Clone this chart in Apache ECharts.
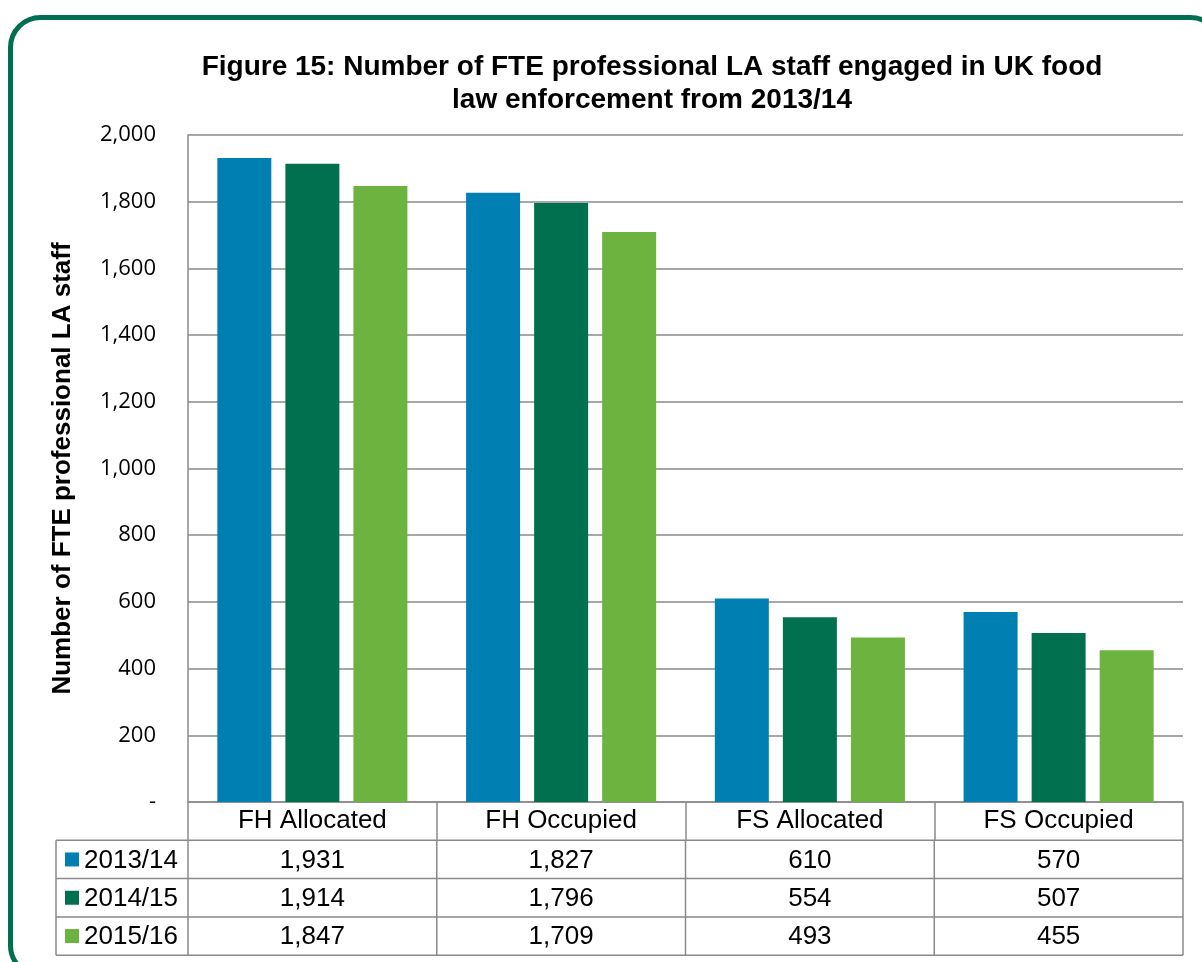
<!DOCTYPE html>
<html>
<head>
<meta charset="utf-8">
<script src="https://cdn.jsdelivr.net/npm/echarts@6/dist/echarts.min.js"></script>
<style>
  html, body { margin: 0; padding: 0; background: #fff; }
  #chart { width: 1202px; height: 962px; }
</style>
</head>
<body>
<div id="chart"></div>
<script>
// categories and series (values as printed in the data table)
var categories = ["FH Allocated", "FH Occupied", "FS Allocated", "FS Occupied"];
var seriesNames = ["2013/14", "2014/15", "2015/16"];
var values2013 = [1931, 1827, 610, 570];
var values2014 = [1914, 1796, 554, 507];
var values2015 = [1847, 1709, 493, 455];
var colors = ["#0080B2", "#00704F", "#6CB33F"];

var allValues = [values2013, values2014, values2015];

// layout
var gridLeft = 188, gridRight = 1183, axisY = 802;
var rowH = 38.3, tableLeft = 56;
var lineColor = "#8a8a8a";
var font = "'Liberation Sans', Arial, sans-serif";

var chart = echarts.init(document.getElementById("chart"));

function fmt(v) {
  return v.toLocaleString("en-US");
}

var graphics = [];
// green rounded frame
graphics.push({
  type: "rect",
  shape: { x: 10.5, y: 17.5, width: 1210, height: 958, r: 30 },
  style: { fill: "none", stroke: "#006F51", lineWidth: 5 },
  z: 0
});

// data table below the axis (row headers + values)
var colW = (gridRight - gridLeft) / categories.length;
var tableTop = axisY + rowH;
var tableBottom = tableTop + rowH * seriesNames.length;
// horizontal lines
for (var r = 0; r <= seriesNames.length; r++) {
  graphics.push({
    type: "line",
    shape: { x1: tableLeft, y1: tableTop + r * rowH, x2: gridRight, y2: tableTop + r * rowH },
    style: { stroke: lineColor, lineWidth: 1.5 }
  });
}
// vertical lines
graphics.push({
  type: "line",
  shape: { x1: tableLeft, y1: tableTop, x2: tableLeft, y2: tableBottom },
  style: { stroke: lineColor, lineWidth: 1.5 }
});
for (var c = 0; c <= categories.length; c++) {
  graphics.push({
    type: "line",
    shape: { x1: gridLeft + c * colW, y1: tableTop, x2: gridLeft + c * colW, y2: tableBottom },
    style: { stroke: lineColor, lineWidth: 1.5 }
  });
}
// rows
for (var s = 0; s < seriesNames.length; s++) {
  var cy = tableTop + s * rowH + rowH / 2;
  graphics.push({
    type: "rect",
    shape: { x: 65, y: cy - 7, width: 14, height: 14 },
    style: { fill: colors[s] }
  });
  graphics.push({
    type: "text",
    x: 84, y: cy + 1,
    style: { text: seriesNames[s], font: "26px " + font, fill: "#000", verticalAlign: "middle", align: "left" }
  });
  for (var k = 0; k < categories.length; k++) {
    graphics.push({
      type: "text",
      x: gridLeft + k * colW + colW / 2, y: cy + 1,
      style: { text: fmt(allValues[s][k]), font: "26px " + font, fill: "#000", verticalAlign: "middle", align: "center" }
    });
  }
}

var series = seriesNames.map(function (name, i) {
  return {
    name: name,
    type: "bar",
    data: allValues[i],
    barWidth: 54,
    barGap: "26%",
    itemStyle: { color: colors[i] }
  };
});

chart.setOption({
  animation: false,
  backgroundColor: "#fff",
  title: {
    text: "Figure 15: Number of FTE professional LA staff engaged in UK food\nlaw enforcement from 2013/14",
    left: 647,
    top: 46,
    textAlign: "center",
    textStyle: { fontFamily: font, fontWeight: "bold", fontSize: 28, lineHeight: 33, color: "#000" }
  },
  grid: { left: gridLeft, right: 1202 - gridRight, top: 135, bottom: 962 - axisY, containLabel: false },
  xAxis: {
    type: "category",
    data: categories,
    axisLine: { lineStyle: { color: lineColor, width: 1.5 } },
    axisTick: { show: true, length: rowH, lineStyle: { color: lineColor, width: 1.5 } },
    axisLabel: { color: "#000", fontFamily: font, fontSize: 26, margin: 6 }
  },
  yAxis: {
    type: "value",
    min: 0,
    max: 2000,
    interval: 200,
    name: "Number of FTE professional LA staff",
    nameLocation: "middle",
    nameGap: 112,
    nameTextStyle: { fontFamily: font, fontWeight: "bold", fontSize: 26, color: "#000" },
    axisLine: { show: true, lineStyle: { color: lineColor, width: 1.5 } },
    axisTick: { show: false },
    splitLine: { lineStyle: { color: lineColor, width: 1.5 } },
    axisLabel: {
      color: "#000",
      fontFamily: "'Open Sans', sans-serif",
      fontSize: 22,
      margin: 32,
      formatter: function (v) { return v === 0 ? "-" : fmt(v); }
    }
  },
  series: series,
  graphic: graphics
});
</script>
</body>
</html>
